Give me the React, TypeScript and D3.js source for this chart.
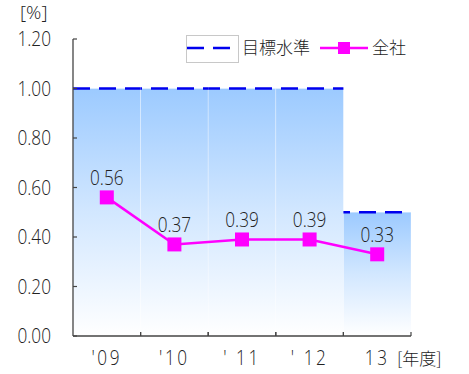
import React from "react";
import * as d3 from "d3";

const years = ["'09", "'10", "' 11", "' 12", "13"];
const targets = [1.0, 1.0, 1.0, 1.0, 0.5];
const actuals = [0.56, 0.37, 0.39, 0.39, 0.33];
const yTicks = [0, 0.2, 0.4, 0.6, 0.8, 1.0, 1.2];

const W = 469;
const H = 374;
const margin = { left: 73, right: 58, top: 39, bottom: 38 };
const font = "'Open Sans', 'Liberation Sans', sans-serif";
const cjk = "'Noto Sans CJK JP', sans-serif";
const textColor = "#222";

// narrow, light numeric label (source font is tall and thin)
function Num({ x, y, anchor = "middle", children, spacing = 0 }: any) {
  return (
    <text
      transform={`translate(${x},${y}) scale(0.86,1)`}
      textAnchor={anchor}
      fontFamily={font}
      fontWeight={300}
      fontSize={20}
      letterSpacing={spacing}
      fill={textColor}
    >
      {children}
    </text>
  );
}

export default function App() {
  const x = d3
    .scaleBand<string>()
    .domain(years)
    .range([margin.left, W - margin.right])
    .padding(0);
  const y = d3
    .scaleLinear()
    .domain([0, 1.2])
    .range([H - margin.bottom, margin.top]);

  const line = d3
    .line<number>()
    .x((_, i) => x(years[i])! + x.bandwidth() / 2)
    .y(d => y(d));

  const bw = x.bandwidth();
  const y0 = y(0);

  return (
    <svg
      width={W}
      height={H}
      style={{ position: "absolute", left: 0, top: 0, background: "#fff" }}
    >
      <defs>
        <linearGradient id="barGrad" x1="0" y1="0" x2="0" y2="1">
          <stop offset="0" stopColor="#9ccaff" />
          <stop offset="0.5" stopColor="#d2e7ff" />
          <stop offset="1" stopColor="#ffffff" />
        </linearGradient>
      </defs>

      {/* target bars */}
      {targets.map((t, i) => (
        <rect
          key={years[i]}
          x={x(years[i])}
          y={y(t)}
          width={bw}
          height={y0 - y(t)}
          fill="url(#barGrad)"
          stroke="#ffffff"
          strokeOpacity={0.35}
          strokeWidth={0.8}
        />
      ))}
      {/* target dashed lines */}
      {targets.map((t, i) => (
        <line
          key={"t" + i}
          x1={x(years[i])}
          x2={x(years[i])! + bw}
          y1={y(t)}
          y2={y(t)}
          stroke="#0000ee"
          strokeWidth={2.5}
          strokeDasharray="17 9"
          strokeDashoffset={(x(years[i])! - margin.left) % 26}
        />
      ))}

      {/* axes */}
      <line x1={margin.left} x2={margin.left} y1={y(1.2)} y2={y0} stroke="#444" strokeWidth={1.3} />
      <line x1={margin.left} x2={W - margin.right} y1={y0} y2={y0} stroke="#444" strokeWidth={1.3} />
      {yTicks.map(t => (
        <g key={t}>
          <line x1={margin.left} x2={margin.left + 4} y1={y(t)} y2={y(t)} stroke="#444" strokeWidth={1.2} />
          <Num x={51} y={y(t) + 7} anchor="end">
            {t.toFixed(2)}
          </Num>
        </g>
      ))}
      {years.map((yr, i) => (
        <line
          key={"xt" + i}
          x1={x(yr)! + bw}
          x2={x(yr)! + bw}
          y1={y0}
          y2={y0 - 4}
          stroke="#444"
          strokeWidth={1.2}
        />
      ))}
      {years.slice(1).map(yr => (
        <line key={"xb" + yr} x1={x(yr)} x2={x(yr)} y1={y0} y2={y0 - 4} stroke="#444" strokeWidth={1.2} />
      ))}
      {years.map(yr => (
        <Num key={"xl" + yr} x={x(yr)! + bw / 2} y={365} spacing={3}>
          {yr}
        </Num>
      ))}
      <text x={397} y={365} fontFamily={cjk} fontWeight={300} fontSize={17} fill={textColor}>
        [年度]
      </text>
      <text x={20} y={19} fontFamily={font} fontWeight={300} fontSize={19} fill={textColor}>
        [%]
      </text>

      {/* actual line */}
      <path d={line(actuals) ?? ""} fill="none" stroke="#ff00ff" strokeWidth={2.5} />
      {actuals.map((v, i) => {
        const cx = x(years[i])! + bw / 2;
        const cy = y(v);
        return (
          <g key={"p" + i}>
            <rect x={cx - 7} y={cy - 7} width={14} height={14} fill="#ff00ff" />
            <Num x={cx} y={cy - 12}>
              {v.toFixed(2)}
            </Num>
          </g>
        );
      })}

      {/* legend */}
      <rect x={186.5} y={35.5} width={52} height={27} fill="#fff" stroke="#c8c8c8" />
      <line x1={187} x2={238} y1={48} y2={48} stroke="#0000ee" strokeWidth={2.5} strokeDasharray="17 9" />
      <text x={242} y={48} dy="0.36em" fontFamily={cjk} fontWeight={300} fontSize={17} fill={textColor}>
        目標水準
      </text>
      <line x1={320} x2={368} y1={48} y2={48} stroke="#ff00ff" strokeWidth={2.5} />
      <rect x={338} y={42} width={12} height={12} fill="#ff00ff" />
      <text x={372} y={48} dy="0.36em" fontFamily={cjk} fontWeight={300} fontSize={17} fill={textColor}>
        全社
      </text>
    </svg>
  );
}
